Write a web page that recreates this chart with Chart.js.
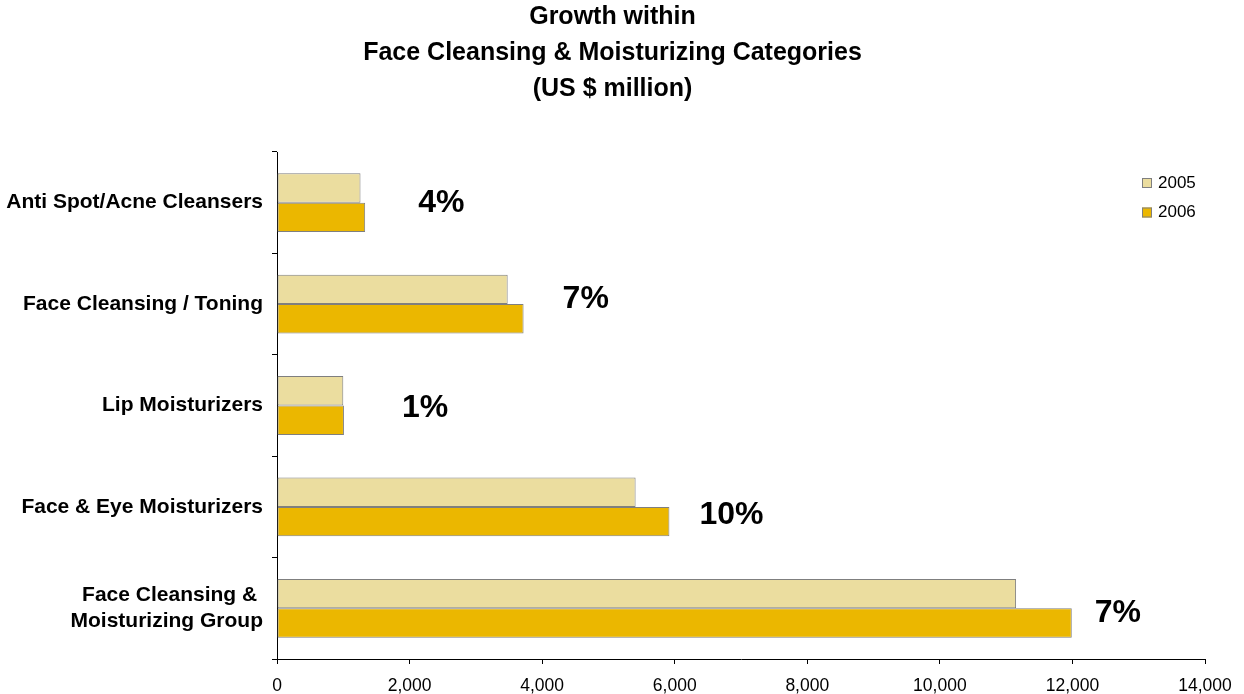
<!DOCTYPE html>
<html>
<head>
<meta charset="utf-8">
<title>Growth within Face Cleansing & Moisturizing Categories</title>
<script src="https://cdn.jsdelivr.net/npm/chart.js@4/dist/chart.umd.min.js"></script>
<style>
    html, body { margin: 0; padding: 0; background: #fff; }
    #wrap { width: 1244px; height: 694px; position: relative; }
</style>
</head>
<body>
<div id="wrap"><canvas id="growthChart"></canvas></div>
<script>
// Categories (top to bottom) and sales in US $ million
const categories = [
    'Anti Spot/Acne Cleansers',
    'Face Cleansing / Toning',
    'Lip Moisturizers',
    'Face & Eye Moisturizers',
    ['Face Cleansing & ', 'Moisturizing Group']
];
const seriesNames = ['2005', '2006'];
const sales2005 = [1260, 3480, 1000, 5410, 11150];
const sales2006 = [1330, 3720, 1010, 5920, 11990];
const growthLabels = ['4%', '7%', '1%', '10%', '7%'];
const xTickValues = [0, 2000, 4000, 6000, 8000, 10000, 12000, 14000];
const titleLines = ['Growth within', 'Face Cleansing & Moisturizing Categories', '(US $ million)'];

const FONT = "'Liberation Sans', Arial, sans-serif";
const colors = {
    light: '#EBDD9F',
    gold: '#EBB700',
    edge: '#7F7F7F'
};

// nudges for the growth labels, in pixels from the end of the 2006 bar
const growthNudgeX = [53, 39, 58, 30, 23];
const growthNudgeY = [0, -5, 3, 8, 5];

// Three-line heading, centred a little left of the canvas middle
const headingPlugin = {
    id: 'heading',
    afterDraw(chart) {
        const ctx = chart.ctx;
        ctx.save();
        ctx.font = `bold 25px ${FONT}`;
        ctx.fillStyle = '#000';
        ctx.textAlign = 'center';
        ctx.textBaseline = 'middle';
        titleLines.forEach((line, i) => {
            ctx.fillText(line, 612.5, 17 + i * 36);
        });
        ctx.restore();
    }
};

// Growth % written next to each pair of bars
const growthLabelPlugin = {
    id: 'growthLabels',
    afterDatasetsDraw(chart) {
        const ctx = chart.ctx;
        const x = chart.scales.x;
        const y = chart.scales.y;
        ctx.save();
        ctx.font = `bold 32px ${FONT}`;
        ctx.fillStyle = '#000';
        ctx.textAlign = 'left';
        ctx.textBaseline = 'middle';
        growthLabels.forEach((label, i) => {
            const px = x.getPixelForValue(sales2006[i]) + growthNudgeX[i];
            const py = y.getPixelForValue(i) + growthNudgeY[i];
            ctx.fillText(label, px, py);
        });
        ctx.restore();
    }
};

// Small legend sitting inside the plot, top right
const cornerLegendPlugin = {
    id: 'cornerLegend',
    afterDraw(chart) {
        const ctx = chart.ctx;
        ctx.save();
        ctx.font = `17px ${FONT}`;
        ctx.textAlign = 'left';
        ctx.textBaseline = 'middle';
        chart.data.datasets.forEach((ds, i) => {
            const top = 178 + i * 29.5;
            ctx.fillStyle = ds.backgroundColor;
            ctx.fillRect(1142, top, 10, 10);
            ctx.strokeStyle = colors.edge;
            ctx.lineWidth = 1;
            ctx.strokeRect(1142.5, top + 0.5, 9, 9);
            ctx.fillStyle = '#000';
            ctx.fillText(ds.label, 1158, top + 5);
        });
        ctx.restore();
    }
};

const ctx = document.getElementById('growthChart').getContext('2d');

const growthChart = new Chart(ctx, {
    type: 'bar',
    data: {
        labels: categories,
        datasets: [
            {
                label: seriesNames[0],
                data: sales2005,
                backgroundColor: colors.light,
                borderColor: colors.edge,
                borderWidth: 1,
                borderSkipped: false
            },
            {
                label: seriesNames[1],
                data: sales2006,
                backgroundColor: colors.gold,
                borderColor: colors.edge,
                borderWidth: 1,
                borderSkipped: false
            }
        ]
    },
    options: {
        indexAxis: 'y',
        responsive: true,
        maintainAspectRatio: false,
        animation: false,
        categoryPercentage: 0.58,
        barPercentage: 1.0,
        layout: {
            padding: { left: 0, right: 39, top: 152, bottom: 0 }
        },
        plugins: {
            legend: { display: false },
            tooltip: { enabled: false },
            title: { display: false }
        },
        scales: {
            x: {
                min: 0,
                max: 14000,
                afterBuildTicks: (scale) => {
                    scale.ticks = xTickValues.map(v => ({ value: v }));
                },
                afterFit: (scale) => { scale.height = 35; },
                ticks: {
                    color: '#000',
                    font: { family: FONT, size: 17.5 },
                    padding: 12,
                    maxRotation: 0,
                    callback: (v) => Number(v).toLocaleString('en-US')
                },
                grid: {
                    drawOnChartArea: false,
                    drawTicks: true,
                    tickLength: 5,
                    color: '#000'
                },
                border: { display: true, color: '#000', width: 1 }
            },
            y: {
                afterFit: (scale) => { scale.width = 277; },
                ticks: {
                    color: '#000',
                    font: { family: FONT, size: 21, weight: 'bold', lineHeight: 1.27 },
                    padding: 9
                },
                grid: {
                    offset: true,
                    drawOnChartArea: false,
                    drawTicks: true,
                    tickLength: 5,
                    color: '#000'
                },
                border: { display: true, color: '#000', width: 1 }
            }
        }
    },
    plugins: [headingPlugin, growthLabelPlugin, cornerLegendPlugin]
});
</script>
</body>
</html>
